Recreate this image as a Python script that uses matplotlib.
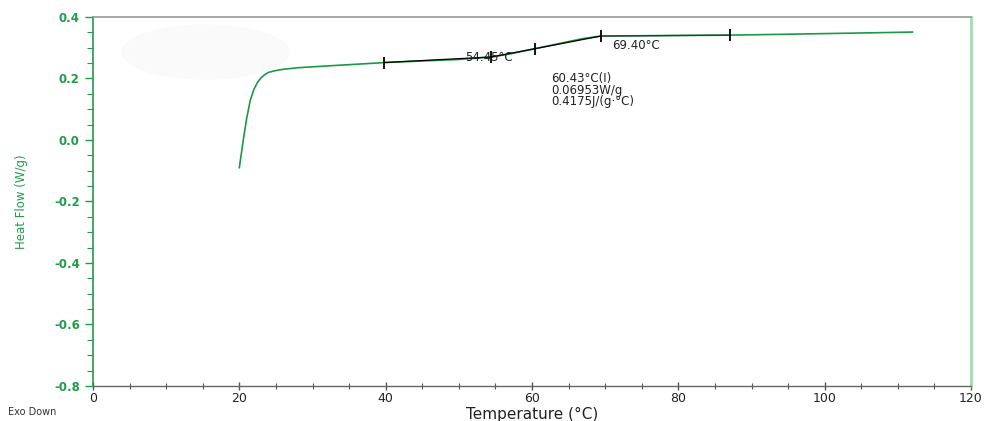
import matplotlib
matplotlib.use("Agg")
import matplotlib.pyplot as plt
from matplotlib.ticker import MultipleLocator, FuncFormatter
from matplotlib.patches import Ellipse

plt.rcParams['font.family'] = ['DejaVu Sans']

# ---- data ----
temperature = [20.0, 20.3, 20.6, 21.0, 21.5, 22.0, 22.5, 23.0, 23.5, 24.0, 25.0, 26.0,
               28.0, 30.0, 35.0, 40.0, 45.0, 50.0, 54.5, 57.0, 60.4, 64.0, 67.0, 69.4,
               75.0, 80.0, 87.0, 95.0, 100.0, 105.0, 112.0]
heat_flow = [-0.09, -0.04, 0.01, 0.07, 0.13, 0.165, 0.188, 0.203, 0.213, 0.220, 0.226, 0.230,
             0.235, 0.238, 0.245, 0.252, 0.257, 0.262, 0.270, 0.280, 0.297, 0.315, 0.330, 0.338,
             0.339, 0.340, 0.341, 0.344, 0.346, 0.348, 0.351]

# glass transition analysis points (limit, onset, midpoint, end, limit)
analysis_T = [39.8, 54.45, 60.43, 69.40, 87.0]
analysis_hf = [0.252, 0.270, 0.297, 0.338, 0.341]

onset_label = "54.45°C"
end_label = "69.40°C"
mid_label = "60.43°C(I)\n0.06953W/g\n0.4175J/(g·°C)"

green = '#1f9e4a'
curve_green = '#1a9a44'

fig = plt.figure(figsize=(9.85, 4.21), dpi=100)
ax = fig.add_axes([93/985, 1-386/421, (971-93)/985, (386-17)/421])

# faint smudge in top-left
ax.add_patch(Ellipse((15.4, 0.286), 23, 0.18, transform=ax.transData,
                     facecolor='#fafafa', edgecolor='none', zorder=0))

ax.plot(temperature, heat_flow, color=curve_green, lw=1.2, zorder=2)

# analysis construction lines
ax.plot(analysis_T[0:2], analysis_hf[0:2], color='black', lw=0.9, zorder=3)
ax.plot(analysis_T[1:4], analysis_hf[1:4], color='black', lw=0.9, zorder=3)
ax.plot(analysis_T[3:5], analysis_hf[3:5], color='#333333', lw=0.9, zorder=3)
ax.plot(analysis_T, analysis_hf, linestyle='none', marker='|', markersize=9,
        markeredgewidth=1.3, color='black', zorder=4)

ax.text(50.8, 0.268, onset_label, fontsize=8.5, color='#222222', va='center', ha='left', zorder=5)
ax.text(71.0, 0.307, end_label, fontsize=8.5, color='#222222', va='center', ha='left')
ax.text(62.6, 0.222, mid_label, fontsize=8.5, color='#222222', va='top', ha='left', linespacing=0.88)

ax.set_xlim(0, 120)
ax.set_ylim(-0.8, 0.4)
ax.xaxis.set_major_locator(MultipleLocator(20))
ax.xaxis.set_minor_locator(MultipleLocator(5))
ax.yaxis.set_major_locator(MultipleLocator(0.2))
ax.yaxis.set_minor_locator(MultipleLocator(0.05))
ax.yaxis.set_major_formatter(FuncFormatter(lambda v, p: f"{v:.1f}"))

ax.tick_params(axis='y', which='both', colors=green, labelcolor=green, labelsize=8.5, direction='out')
ax.tick_params(axis='y', which='major', length=6, width=1)
ax.tick_params(axis='y', which='minor', length=4, width=0.8)
for lbl in ax.get_yticklabels():
    lbl.set_fontweight('bold')
ax.tick_params(axis='x', which='both', colors='#555555', labelcolor='#222222', labelsize=9, direction='inout')
ax.tick_params(axis='x', which='major', length=6, width=1, pad=1)
ax.tick_params(axis='x', which='minor', length=4, width=0.8)

ax.spines['left'].set_color(green)
ax.spines['left'].set_linewidth(1.2)
ax.spines['bottom'].set_color('#666666')
ax.spines['bottom'].set_linewidth(1.0)
ax.spines['top'].set_color('#999999')
ax.spines['top'].set_linewidth(1.2)
ax.spines['right'].set_color('#a6dcb0')
ax.spines['right'].set_linewidth(2.0)

ax.set_xlabel("Temperature (°C)", fontsize=11, color='#222222', labelpad=2)
ax.set_ylabel("Heat Flow (W/g)", fontsize=8.5, color=green, labelpad=19)

fig.text(8/985, 1-412/421, "Exo Down", fontsize=7, color='#333333', va='center', ha='left')

fig.savefig("out.png", dpi=100)
